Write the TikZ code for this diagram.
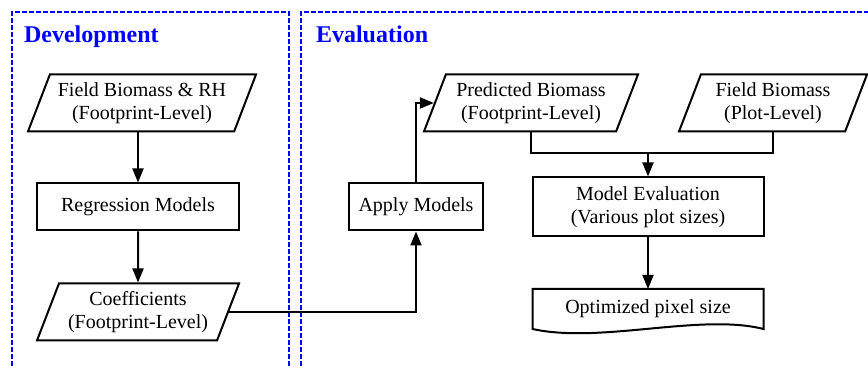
\documentclass[tikz,border=0pt]{standalone}
\usepackage{fontspec}
\setmainfont{Liberation Serif}
\usepackage{tikz}
\usetikzlibrary{shapes.geometric}
\usetikzlibrary{arrows.meta}
\tikzset{
  Rahmen/.style={draw=blue, line width=1.3pt, dash pattern=on 2.3pt off 1.2pt}, % frames
  Titel/.style={anchor=base west, text=blue, font=\fontsize{12}{14}\selectfont\bfseries},
  Kasten/.style={draw, line width=1pt, align=center, inner sep=2pt},
  Daten/.style={Kasten, trapezium, trapezium left angle=66, trapezium right angle=114,
    trapezium stretches body=true, minimum height=28.5pt},
  Pfeil/.style={line width=1pt,->}
}

\begin{document}
\begin{tikzpicture}[x=0.5pt, y=-0.5pt,
font=\fontsize{10}{11.5}\selectfont,
>={Triangle[length=7pt,width=5.5pt]} % arrow tips
]
\clip (0,0) rectangle (868,368);

%Rahmen
\draw[Rahmen] (12,380) -- (12,12) -- (289,12) -- (289,380);
\draw[Rahmen] (301,380) -- (301,12) -- (880,12);
\node[Titel] (devtitle) at (17,43) {Development};
\node[Titel] (evaltitle) at (309,43) {Evaluation};

%Knoten
\node[Daten, minimum width=114pt] (fieldrh) at (142,103) {Field Biomass \& RH\\(Footprint-Level)};
\node[Kasten, minimum width=101pt, minimum height=23.5pt] (regr) at (138,207) {Regression Models};
\node[Daten, minimum width=101pt] (coef) at (138,312) {Coefficients\\(Footprint-Level)};
\node[Kasten, minimum width=67pt, minimum height=23.5pt] (apply) at (416,207) {Apply Models};
\node[Daten, minimum width=107pt] (pred) at (531,103) {Predicted Biomass\\(Footprint-Level)};
\node[Daten, minimum width=94pt] (fieldplot) at (773,103) {Field Biomass\\(Plot-Level)};
\node[Kasten, minimum width=115.5pt, minimum height=29.5pt] (evalm) at (648,207) {Model Evaluation\\(Various plot sizes)};
\node[align=center, minimum width=115.5pt, minimum height=20pt, inner sep=0pt, outer sep=0pt] (optim) at (648,309) {Optimized pixel size};
\draw[line width=1pt] (optim.south east) .. controls +(-63,-16) and +(68,15) .. (optim.south west)
  -- (optim.north west) -- (optim.north east) -- cycle;

%Verbindungen
\coordinate (join) at ([yshift=11.5pt]evalm.north);
\draw[Pfeil] (regr.north |- fieldrh.south) -- (regr.north);
\draw[Pfeil] (regr.south) -- (coef.north);
\draw[Pfeil] (coef.east) -| (apply.south);
\draw[Pfeil] (apply.north) |- (pred.west);
\draw[line width=1pt] (pred.south) |- (join) -| (fieldplot.south);
\draw[Pfeil] (join) -- (evalm.north);
\draw[Pfeil] (evalm.south) -- (optim.north);

\end{tikzpicture}
\end{document}
